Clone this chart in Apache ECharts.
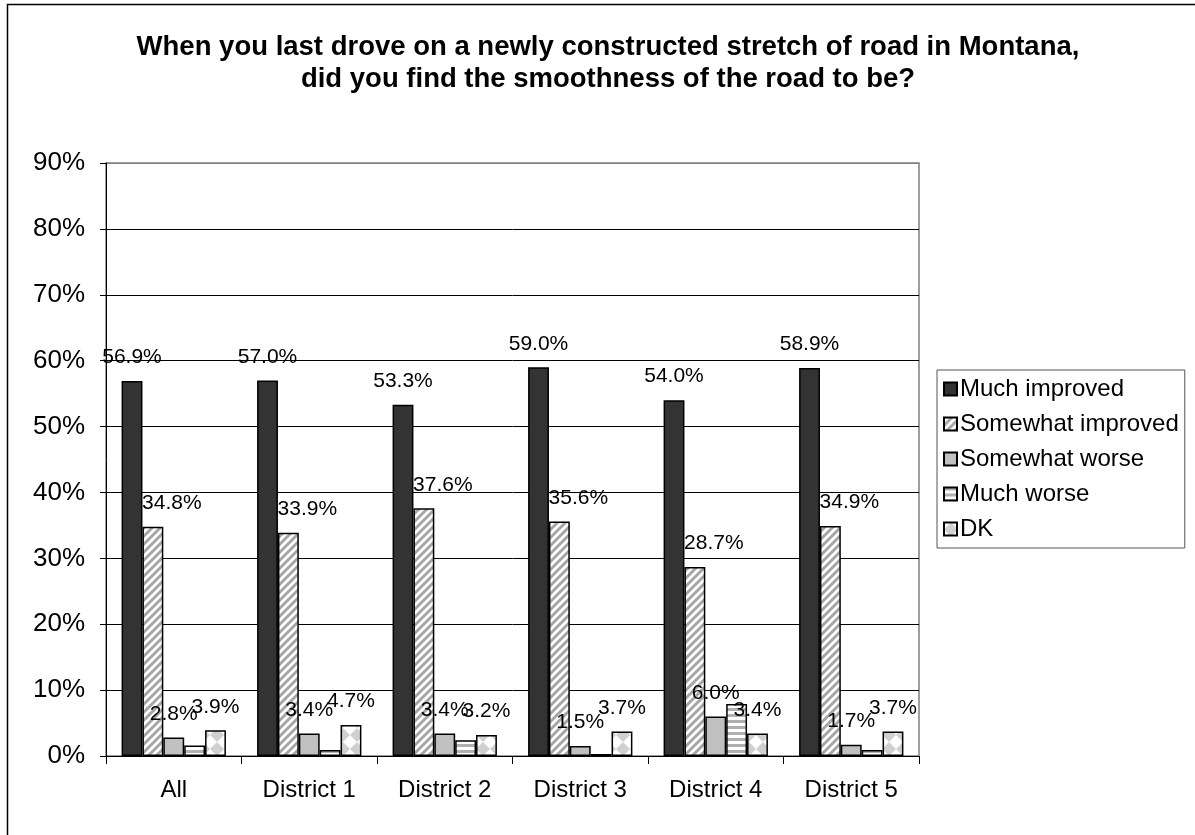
<!DOCTYPE html>
<html>
<head>
<meta charset="utf-8">
<script src="https://cdn.jsdelivr.net/npm/echarts@6/dist/echarts.min.js"></script>
<style>html,body{margin:0;padding:0;background:#fff;}#c{width:1195px;height:835px;}</style>
</head>
<body>
<div id="c"></div>
<script>
var categories = ['All', 'District 1', 'District 2', 'District 3', 'District 4', 'District 5'];
var seriesNames = ['Much improved', 'Somewhat improved', 'Somewhat worse', 'Much worse', 'DK'];
var muchImproved = [56.9, 57.0, 53.3, 59.0, 54.0, 58.9];
var somewhatImproved = [34.8, 33.9, 37.6, 35.6, 28.7, 34.9];
var somewhatWorse = [2.8, 3.4, 3.4, 1.5, 6.0, 1.7];
var muchWorse = [1.6, 0.9, 2.4, 0.3, 7.9, 0.9];
var dk = [3.9, 4.7, 3.2, 3.7, 3.4, 3.7];
var yTicks = [0, 10, 20, 30, 40, 50, 60, 70, 80, 90];

function makeCanvas(w, h, draw) {
  var c = document.createElement('canvas');
  c.width = w; c.height = h;
  var ctx = c.getContext('2d');
  ctx.fillStyle = '#ffffff';
  ctx.fillRect(0, 0, w, h);
  draw(ctx, w, h);
  return c;
}
var diagCanvas = makeCanvas(8, 8, function (ctx, w, h) {
  ctx.strokeStyle = '#a6a6a6';
  ctx.lineWidth = 3;
  ctx.beginPath();
  ctx.moveTo(-2, 10); ctx.lineTo(10, -2);
  ctx.moveTo(-6, 6); ctx.lineTo(6, -6);
  ctx.moveTo(2, 14); ctx.lineTo(14, 2);
  ctx.stroke();
});
var horizCanvas = makeCanvas(6, 6, function (ctx, w, h) {
  ctx.fillStyle = '#b0b0b0';
  ctx.fillRect(0, 0, 6, 3);
});
var dkCanvas = makeCanvas(14, 14, function (ctx, w, h) {
  ctx.fillStyle = '#d0d0d0';
  ctx.beginPath();
  ctx.moveTo(7, 0); ctx.lineTo(14, 7); ctx.lineTo(7, 14); ctx.lineTo(0, 7); ctx.closePath();
  ctx.fill();
});

var fills = [
  '#333333',
  { image: diagCanvas, repeat: 'repeat' },
  '#c0c0c0',
  { image: horizCanvas, repeat: 'repeat' },
  { image: dkCanvas, repeat: 'repeat' }
];
var values = [muchImproved, somewhatImproved, somewhatWorse, muchWorse, dk];
var showLabel = [true, true, true, false, true];
var labelOffset = [[0, 0], [19, 0], [0, 0], [0, 0], [0, 0]];

var series = seriesNames.map(function (name, i) {
  return {
    name: name,
    type: 'bar',
    data: values[i],
    barGap: '0%',
    barCategoryGap: '23%',
    itemStyle: { color: fills[i], borderColor: '#000', borderWidth: 1.5 },
    label: {
      show: showLabel[i],
      position: 'top',
      distance: 13,
      offset: labelOffset[i],
      fontFamily: 'Arial, Liberation Sans, sans-serif',
      fontSize: 21,
      color: '#000',
      formatter: function (p) { return p.value.toFixed(1) + '%'; }
    },
    emphasis: { disabled: true }
  };
});

var splitColors = yTicks.map(function (t, i) { return i === yTicks.length - 1 ? '#808080' : '#000'; });

var chart = echarts.init(document.getElementById('c'), null, { renderer: 'canvas' });
chart.setOption({
  backgroundColor: '#fff',
  animation: false,
  textStyle: { fontFamily: 'Arial, Liberation Sans, sans-serif' },
  title: {
    text: 'When you last drove on a newly constructed stretch of road in Montana,\ndid you find the smoothness of the road to be?',
    left: 603,
    top: 26,
    textAlign: 'center',
    textStyle: { fontSize: 27.5, fontWeight: 'bold', color: '#000', lineHeight: 32, fontFamily: 'Arial, Liberation Sans, sans-serif' }
  },
  legend: {
    orient: 'vertical',
    left: 937,
    top: 370,
    padding: [7, 6, 7, 6],
    itemWidth: 13,
    itemHeight: 13,
    itemGap: 11,
    icon: 'rect',
    borderColor: '#555',
    borderWidth: 1,
    textStyle: { fontSize: 24, color: '#000', padding: [0, 0, 0, -2] },
    data: seriesNames,
    selectedMode: false
  },
  grid: {
    left: 106, right: 276, top: 163, bottom: 79,
    show: true, borderColor: '#808080', borderWidth: 1.5, backgroundColor: '#fff'
  },
  xAxis: {
    type: 'category',
    data: categories,
    axisLine: { lineStyle: { color: '#000', width: 1 } },
    axisTick: { show: true, alignWithLabel: false, length: 8, lineStyle: { color: '#000' } },
    axisLabel: { fontSize: 24, color: '#000', margin: 22 }
  },
  yAxis: {
    type: 'value',
    min: 0, max: 90, interval: 10,
    axisLine: { show: true, lineStyle: { color: '#000', width: 1 } },
    axisTick: { show: true, length: 6, lineStyle: { color: '#000' } },
    axisLabel: { fontSize: 26, color: '#000', margin: 21, formatter: '{value}%' },
    splitLine: { show: true, lineStyle: { color: splitColors, width: 1 } }
  },
  graphic: [{
    type: 'rect',
    shape: { x: 7.5, y: 4.5, width: 1300, height: 1000 },
    style: { fill: null, stroke: '#000', lineWidth: 1.5 },
    silent: true,
    z: 100
  }],
  series: series
});
</script>
</body>
</html>
